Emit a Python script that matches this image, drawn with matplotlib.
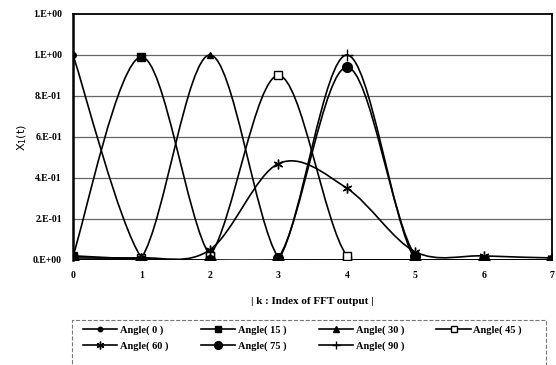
import numpy as np
import matplotlib.pyplot as plt
from matplotlib.path import Path
from matplotlib.patches import PathPatch, Rectangle
from matplotlib.lines import Line2D

# FFT output index
k = [0, 1, 2, 3, 4, 5, 6, 7]

# |X1|, one list per angle
angle_0 = [1.00, 0.01, 0.00, 0.00, 0.00, 0.00, 0.00, 0.00]
angle_15 = [0.02, 0.99, 0.02, 0.00, 0.00, 0.00, 0.00, 0.00]
angle_30 = [0.00, 0.01, 1.00, 0.01, 0.00, 0.00, 0.00, 0.00]
angle_45 = [0.01, 0.01, 0.02, 0.90, 0.02, 0.00, 0.00, 0.00]
angle_60 = [0.02, 0.01, 0.05, 0.47, 0.35, 0.04, 0.02, 0.01]
angle_75 = [0.00, 0.00, 0.00, 0.01, 0.94, 0.02, 0.00, 0.00]
angle_90 = [0.00, 0.00, 0.00, 0.00, 1.00, 0.00, 0.00, 0.00]

labels = ['Angle( 0 )', 'Angle( 15 )', 'Angle( 30 )', 'Angle( 45 )',
          'Angle( 60 )', 'Angle( 75 )', 'Angle( 90 )']
yticks = [0.0, 0.2, 0.4, 0.6, 0.8, 1.0, 1.2]
ytick_labels = ['0.E+00', '2.E-01', '4.E-01', '6.E-01', '8.E-01', '1.E+00', '1.E+00']

series = [angle_0, angle_15, angle_30, angle_45, angle_60, angle_75, angle_90]
styles = [
    dict(marker='o', ms=4, mfc='black'),
    dict(marker='s', ms=6, mfc='black'),
    dict(marker='^', ms=5, mfc='black'),
    dict(marker='s', ms=6, mfc='white'),
    dict(marker=(6, 2, 0), ms=7, mfc='black'),
    dict(marker='o', ms=7, mfc='black'),
    dict(marker='+', ms=8, mfc='black'),
]

serif = 'Liberation Serif'


def smooth_path(x, y):
    # Excel style smoothed line: cubic bezier segments through the points
    p = np.column_stack([x, y]).astype(float)
    ext = np.vstack([p[0], p, p[-1]])
    verts = [p[0]]
    codes = [Path.MOVETO]
    for i in range(len(p) - 1):
        p0, p1, p2, p3 = ext[i], ext[i + 1], ext[i + 2], ext[i + 3]
        verts += [p1 + (p2 - p0) / 6, p2 - (p3 - p1) / 6, p2]
        codes += [Path.CURVE4] * 3
    return Path(verts, codes)


fig = plt.figure(figsize=(5.56, 3.65), dpi=100)
ax = fig.add_axes([0.1313, 0.2877, 0.862, 0.674])

for vals, st in zip(series, styles):
    ax.add_patch(PathPatch(smooth_path(k, vals), fill=False, edgecolor='black',
                           lw=1.2, zorder=3))
    ax.plot(k, vals, ls='none', color='black', mec='black', mew=1.0, zorder=4, **st)

ax.set_xlim(0, 7)
ax.set_ylim(0, 1.2)
ax.set_xticks(k)
ax.set_yticks(yticks)
ax.set_yticklabels(ytick_labels)
for y in yticks[1:-1]:
    ax.axhline(y, color='#666666', lw=0.9, zorder=1)

for s in ['top', 'right']:
    ax.spines[s].set_linewidth(1.3)
ax.spines['left'].set_linewidth(1.8)
ax.spines['bottom'].set_visible(False)
ax.tick_params(length=0, pad=8)
for lab in ax.get_xticklabels() + ax.get_yticklabels():
    lab.set_fontfamily(serif)
    lab.set_fontweight('bold')
    lab.set_fontsize(7)

ax.set_xlabel('| k : Index of FFT output |', fontfamily=serif, fontweight='bold',
              fontsize=8, labelpad=12)
ax.set_ylabel('X$_1$(t)', fontsize=8, labelpad=3)

# legend, filled row by row like the original
order = [0, 4, 1, 5, 2, 6, 3]
handles = [Line2D([], [], color='black', lw=1.2, mec='black', **styles[i]) for i in order]
leg = fig.legend(handles, [labels[i] for i in order], ncol=4, loc='upper left',
                 bbox_to_anchor=(0.1493, 0.108), frameon=False,
                 prop=dict(family=serif, weight='bold', size=7.5),
                 handlelength=3.3, handletextpad=0.25, columnspacing=3.1,
                 borderpad=0.0, borderaxespad=0.0, labelspacing=0.6,
                 markerscale=0.8)
fig.patches.append(Rectangle((72 / 556, -0.05), 474 / 556, 0.05 + 45 / 365,
                             transform=fig.transFigure, fill=False,
                             edgecolor='#777777', lw=0.8, ls='--'))

fig.savefig('out.png', dpi=100)
